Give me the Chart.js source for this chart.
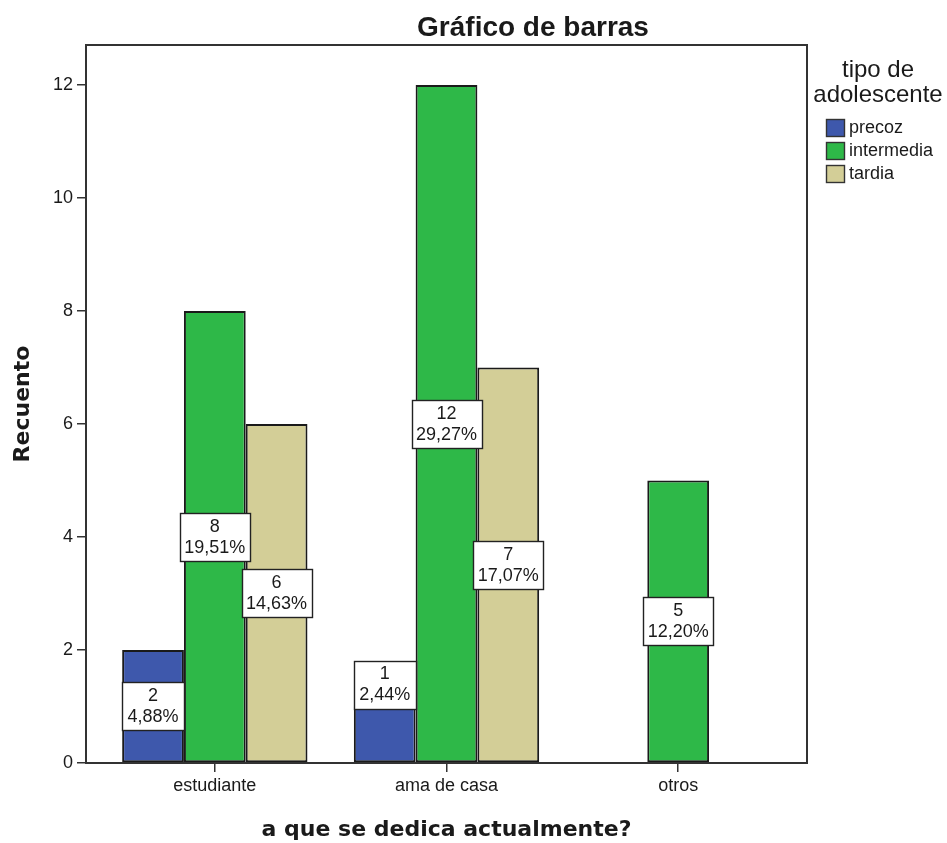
<!DOCTYPE html>
<html>
<head>
<meta charset="utf-8">
<script src="https://cdn.jsdelivr.net/npm/chart.js@4"></script>
<style>
  html, body { margin: 0; padding: 0; background: #fff; }
  #wrap { width: 947px; height: 843px; position: relative; }
</style>
</head>
<body>
<div id="wrap"><canvas id="bar-chart"></canvas></div>
<script>
const categories = ["estudiante", "ama de casa", "otros"];
const seriesNames = ["precoz", "intermedia", "tardia"];
const precoz = [2, 1, null];
const intermedia = [8, 12, 5];
const tardia = [6, 7, null];
const yTicks = [0, 2, 4, 6, 8, 10, 12];
const seriesColors = ["rgb(62, 88, 172)", "rgb(46, 184, 72)", "rgb(211, 206, 151)"];
const legendTitle = ["tipo de", "adolescente"];
const chartTitle = "Gráfico de barras";

const allSeries = [precoz, intermedia, tardia];
const total = allSeries.flat().reduce((s, v) => s + (v || 0), 0);

const ink = "#1a1a1a";
const sans = "'Liberation Sans', Arial, sans-serif";
const wide = "'DejaVu Sans', Verdana, sans-serif";

const datasets = allSeries.map((vals, k) => ({
  label: seriesNames[k],
  data: vals.map((v, i) => ({ x: i, y: v })),
  backgroundColor: seriesColors[k],
  borderColor: "#1a1a1a",
  borderWidth: 2,
  borderSkipped: false,
  categoryPercentage: 0.8,
  barPercentage: 1.0,
}));

// white box with count and percent in the middle of each bar
const barLabels = {
  id: "barLabels",
  afterDatasetsDraw(chart) {
    const ctx = chart.ctx;
    ctx.save();
    ctx.font = "18px " + sans;
    ctx.textAlign = "center";
    ctx.textBaseline = "middle";
    chart.data.datasets.forEach((ds, k) => {
      const meta = chart.getDatasetMeta(k);
      meta.data.forEach((bar, i) => {
        const v = allSeries[k][i];
        if (v == null) return;
        const pct = (v / total * 100).toFixed(2).replace(".", ",") + "%";
        const line1 = String(v);
        const tw = Math.max(ctx.measureText(line1).width, ctx.measureText(pct).width);
        const w = Math.round(Math.max(bar.width, tw + 9));
        const h = 48;
        const barH = bar.base - bar.y;
        let cy = (bar.y + bar.base) / 2;
        if (barH < 60) cy = bar.y - h / 2 + 2;
        const x0 = Math.round(bar.x - w / 2) + 0.5;
        const y0 = Math.round(cy - h / 2) + 0.5;
        ctx.fillStyle = "#fff";
        ctx.fillRect(x0, y0, w, h);
        ctx.strokeStyle = "#222";
        ctx.lineWidth = 1.4;
        ctx.strokeRect(x0, y0, w, h);
        ctx.fillStyle = ink;
        ctx.fillText(line1, bar.x, cy - 10);
        ctx.fillText(pct, bar.x, cy + 11);
      });
    });
    ctx.restore();
  }
};

// title, frame round the plot area and the legend on the right
const frameAndLegend = {
  id: "frameAndLegend",
  afterDraw(chart) {
    const ctx = chart.ctx;
    const a = chart.chartArea;
    ctx.save();
    ctx.strokeStyle = "#333";
    ctx.lineWidth = 2;
    ctx.strokeRect(a.left, a.top, a.right - a.left, a.bottom - a.top);

    ctx.fillStyle = ink;
    ctx.textAlign = "center";
    ctx.textBaseline = "middle";
    ctx.font = "bold 28px " + sans;
    ctx.fillText(chartTitle, 533, 28);

    ctx.font = "24px " + sans;
    legendTitle.forEach((t, j) => ctx.fillText(t, 878, 70 + j * 25));

    ctx.textAlign = "left";
    ctx.font = "18px " + sans;
    seriesNames.forEach((name, k) => {
      const y = 119 + k * 23;
      ctx.fillStyle = seriesColors[k];
      ctx.fillRect(826.5, y + 0.5, 18, 17);
      ctx.strokeStyle = "#333";
      ctx.lineWidth = 1.4;
      ctx.strokeRect(826.5, y + 0.5, 18, 17);
      ctx.fillStyle = ink;
      ctx.fillText(name, 849, y + 9.5);
    });
    ctx.restore();
  }
};

new Chart(document.getElementById("bar-chart"), {
  type: "bar",
  data: { datasets: datasets },
  options: {
    responsive: true,
    maintainAspectRatio: false,
    animation: false,
    layout: { padding: { left: 0, right: 140, top: 45, bottom: 0 } },
    plugins: {
      legend: { display: false },
      tooltip: { enabled: false },
      title: { display: false },
    },
    scales: {
      x: {
        type: "linear",
        offset: false,
        min: -0.556,
        max: 2.556,
        afterFit: (s) => { s.height = 80; },
        afterBuildTicks: (s) => { s.ticks = categories.map((c, i) => ({ value: i })); },
        border: { display: false },
        grid: { offset: false, drawOnChartArea: false, tickLength: 9, color: "#333", lineWidth: 1.5 },
        ticks: {
          color: ink,
          font: { family: sans, size: 18 },
          padding: 3,
          maxRotation: 0,
          callback: (v, i) => categories[i],
        },
        title: {
          display: true,
          text: "a que se dedica actualmente?",
          color: ink,
          font: { family: wide, size: 22, weight: "bold" },
          padding: { top: 0, bottom: 0 },
        },
      },
      y: {
        min: 0,
        max: 12.71,
        afterFit: (s) => { s.width = 86; },
        afterBuildTicks: (s) => { s.ticks = yTicks.map((v) => ({ value: v })); },
        border: { display: false },
        grid: { drawOnChartArea: false, tickLength: 9, color: "#333", lineWidth: 1.5 },
        ticks: {
          color: ink,
          font: { family: sans, size: 18 },
          padding: 4,
        },
        title: {
          display: true,
          text: "Recuento",
          color: ink,
          font: { family: wide, size: 22, weight: "bold" },
          padding: { top: 10, bottom: 0 },
        },
      },
    },
  },
  plugins: [barLabels, frameAndLegend],
});
</script>
</body>
</html>
